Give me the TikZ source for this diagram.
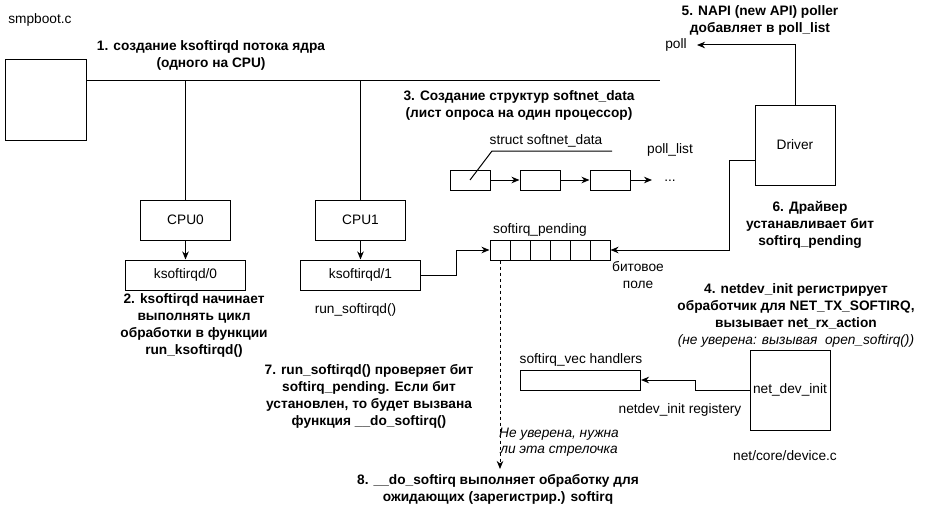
\documentclass[tikz,border=0pt]{standalone}
\usepackage{fontspec}
\setmainfont{Liberation Sans}
\usetikzlibrary{arrows.meta}
\tikzset{
  box/.style={draw, inner sep=0pt},
  txt/.style={font=\fontsize{13.7}{17}\selectfont, align=center},
  head/.style={font=\fontsize{13.7}{17}\selectfont\bfseries, align=center},
  remark/.style={font=\fontsize{13.7}{16.5}\selectfont\itshape, align=center},
  arr/.style={-{Stealth[length=8pt,width=6.5pt,inset=2.5pt]}}
}
\begin{document}
\begin{tikzpicture}[x=1pt, y=-1pt, line width=1pt]
  \useasboundingbox (0,0) rectangle (931,511);
  \node[txt, anchor=west] (smpfile) at (4.5,20) {smpboot.c};
  \node[box, minimum width=81pt, minimum height=80pt] (smpboot) at (45.5,100) {};
  \coordinate (busend) at (660,80);
  \draw (smpboot.east |- busend) -- (busend);
  \node[head] (step1) at (211,55.5) {1. создание ksoftirqd потока ядра\\(одного на CPU)};
  \node[box, txt, minimum width=90pt, minimum height=40pt] (cpu0) at (185.5,220) {CPU0};
  \node[box, txt, minimum width=90pt, minimum height=40pt] (cpu1) at (360.5,220) {CPU1};
  \node[box, txt, minimum width=120pt, minimum height=30pt] (ksoft0) at (185.5,275) {ksoftirqd/0};
  \node[box, txt, minimum width=120pt, minimum height=30pt] (ksoft1) at (360.5,275) {ksoftirqd/1};
  \draw (cpu0.north |- busend) -- (cpu0.north);
  \draw (cpu1.north |- busend) -- (cpu1.north);
  \draw[arr] (cpu0) -- (ksoft0);
  \draw[arr] (cpu1) -- (ksoft1);
  \node[head] (step2) at (194,325.5) {2. ksoftirqd начинает\\выполнять цикл\\обработки в функции\\run\_ksoftirqd()};
  \node[txt] (runfn) at (355.5,310) {run\_softirqd()};
  \node[head] (step7) at (369,396) {7. run\_softirqd() проверяет бит\\softirq\_pending. Если бит\\установлен, то будет вызвана\\функция \_\_do\_softirq()};
  \node[head] (step3) at (519,105.5) {3. Создание структур softnet\_data\\(лист опроса на один процессор)};
  \foreach \n/\x in {1/470,2/540,3/610}
    \node[box, minimum width=40pt, minimum height=20pt] (sd\n) at (\x,180) {};
  \draw[arr] (sd1) -- (sd2);
  \draw[arr] (sd2) -- (sd3);
  \coordinate (sdtip) at (652,180);
  \draw[arr] (sd3.east) -- (sdtip);
  \node[txt] (dots) at (670,181) {...};
  \node[txt] (sdlbl) at (546,141) {struct softnet\_data};
  \coordinate (ulleft) at (492,151);
  \coordinate (ulright) at (612,151);
  \draw (sd1.center) -- (ulleft) -- (ulright);
  \node[txt] (plist) at (670,150) {poll\_list};
  \foreach \i in {0,...,5}
    \node[box, minimum size=20pt] (bit\i) at (500+20*\i,250) {};
  \node[txt] (pendlbl) at (540,230) {softirq\_pending};
  \node[txt] (bitlbl) at (638,275.5) {битовое\\поле};
  \draw[arr] (ksoft1.east) -- ++(35,0) |- (bit0.west);
  \node[box, txt, minimum size=80pt] (driver) at (795,145) {Driver};
  \draw[arr] ([yshift=-15pt]driver.west) -- ++(-25,0) |- (bit5.east);
  \node[txt] (polltxt) at (676,45) {poll};
  \coordinate (polltip) at (697,45);
  \draw[arr] (driver.north) |- (polltip);
  \node[head] (step5) at (760,20.5) {5. NAPI (new API) poller\\добавляет в poll\_list};
  \node[head] (step6) at (810,225) {6. Драйвер\\устанавливает бит\\softirq\_pending};
  \node[head] (step4) at (796,315) {4. netdev\_init регистрирует\\обработчик для NET\_TX\_SOFTIRQ,\\вызывает net\_rx\_action\\{\mdseries\itshape (не уверена: вызывая\ \ open\_softirq())}};
  \node[box, minimum width=120pt, minimum height=20pt] (vec) at (580.5,380) {};
  \node[txt] (veclbl) at (581,360) {softirq\_vec handlers};
  \node[box, txt, minimum size=80pt] (netdev) at (790,390) {net\_dev\_init};
  \draw[arr] (netdev.west) -- ++(-54,0) |- (vec.east);
  \node[txt] (reglbl) at (680,410) {netdev\_init registery};
  \node[txt] (devfile) at (785,456) {net/core/device.c};
  \coordinate (dashtip) at (500,469);
  \draw[arr, dashed] (bit0.south) -- (dashtip);
  \node[remark] (unsure) at (559,442) {Не уверена, нужна\\ли эта стрелочка};
  \node[head] (step8) at (498,489.5) {8. \_\_do\_softirq выполняет обработку для\\ожидающих (зарегистрир.) softirq};
\end{tikzpicture}
\end{document}
